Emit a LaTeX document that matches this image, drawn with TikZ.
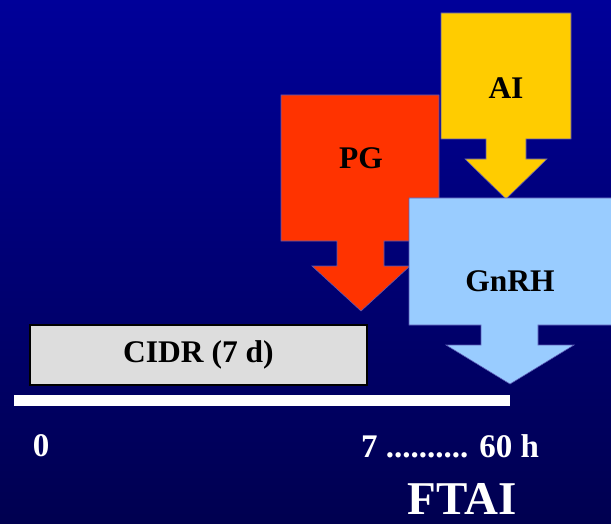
\documentclass[tikz,border=0pt]{standalone}
\usepackage{fontspec}
\setmainfont{Liberation Serif}
\definecolor{bgtop}{HTML}{000099}
\definecolor{bgbot}{HTML}{000050}
\definecolor{pgred}{HTML}{FF3300}
\definecolor{aiyellow}{HTML}{FFCC00}
\definecolor{gnblue}{HTML}{99CCFF}
\definecolor{cidrgray}{HTML}{DDDDDD}
\definecolor{edgeblue}{HTML}{5A5AB4}
\tikzset{
  hormone/.style={draw=edgeblue, line width=0.6pt, line join=miter},
  boxlabel/.style={font=\bfseries\fontsize{31.5}{31.5}\selectfont, text=black, inner sep=0pt},
  axislabel/.style={font=\bfseries\fontsize{33}{33}\selectfont, text=white, inner sep=0pt},
}
\begin{document}
\begin{tikzpicture}[x=1pt, y=-1pt]
  % page and background
  \useasboundingbox (0,0) rectangle (611,524);
  \shade[top color=bgtop, bottom color=bgbot] (0,0) rectangle (611,524);

  % PG box arrow
  \draw[hormone, fill=pgred]
    (281,95) -- (439,95) -- (439,241) -- (384,241) -- (384,266) -- (410,266)
    -- (361,311) -- (312,266) -- (337,266) -- (337,241) -- (281,241) -- cycle;
  \node[boxlabel] (pg) at (361,158) {PG};

  % AI box arrow
  \draw[hormone, fill=aiyellow]
    (441,13) -- (571,13) -- (571,139) -- (526,139) -- (526,159) -- (547,159)
    -- (506,199) -- (465,159) -- (486,159) -- (486,139) -- (441,139) -- cycle;
  \node[boxlabel] (ai) at (506,88) {AI};

  % GnRH box arrow
  \draw[hormone, fill=gnblue]
    (409,198) -- (612,198) -- (612,325) -- (538,325) -- (538,345) -- (574,345)
    -- (510,384) -- (446,345) -- (481,345) -- (481,325) -- (409,325) -- cycle;
  \node[boxlabel] (gnrh) at (510,281) {GnRH};

  % CIDR period
  \node[draw=black, line width=1.5pt, fill=cidrgray, minimum width=337pt,
        minimum height=60pt, inner sep=0pt, font=\bfseries\fontsize{31.5}{31.5}\selectfont]
        (cidr) at (198.5,355) {CIDR (7 d)};

  % time axis
  \fill[white] (14,395) rectangle (510,406);
  \node[axislabel] (t0) at (41,446) {0};
  \node[axislabel] (t60) at (450,446) {7 .......... 60 h};
  \node[font=\bfseries\fontsize{47}{47}\selectfont, text=white, inner sep=0pt]
        (ftai) at (462,499) {FTAI};
\end{tikzpicture}
\end{document}
